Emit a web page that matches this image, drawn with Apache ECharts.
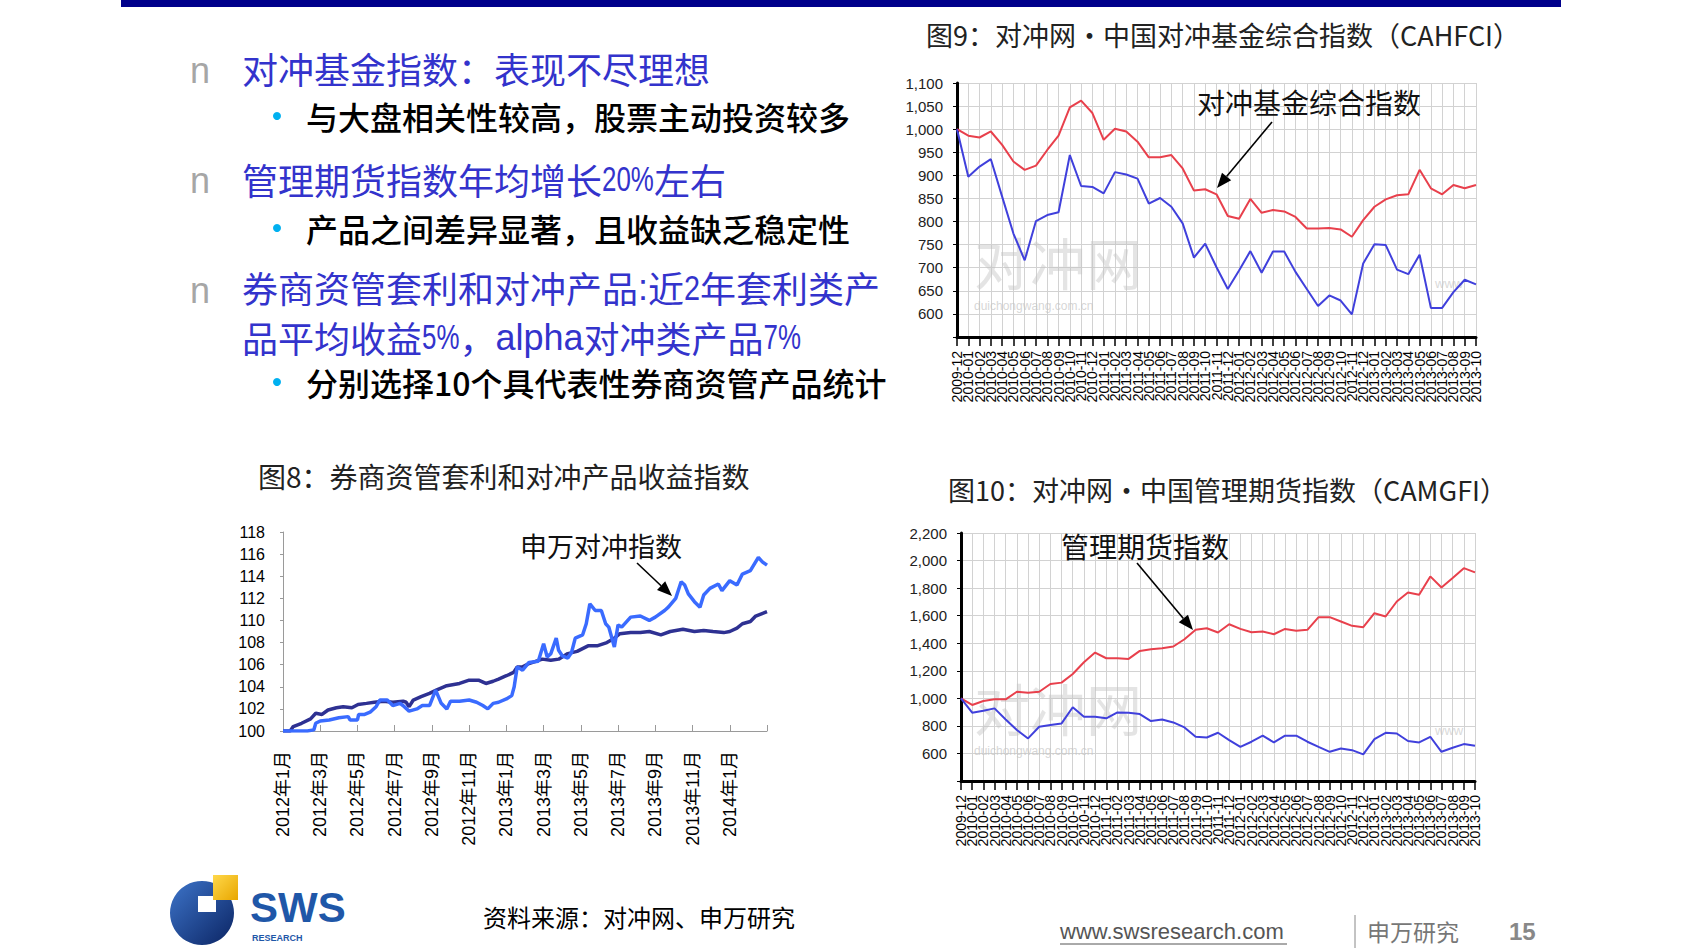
<!DOCTYPE html>
<html><head><meta charset="utf-8">
<script src="https://cdn.jsdelivr.net/npm/echarts@6/dist/echarts.min.js"></script>
<style>html,body{margin:0;padding:0;background:#fff;}#c{width:1684px;height:948px;}</style>
</head><body><div id="c"></div>
<script>
// ---------- DATA ----------
const months = ['2009-12','2010-01','2010-02','2010-03','2010-04','2010-05','2010-06','2010-07','2010-08','2010-09','2010-10','2010-11','2010-12',
'2011-01','2011-02','2011-03','2011-04','2011-05','2011-06','2011-07','2011-08','2011-09','2011-10','2011-11','2011-12',
'2012-01','2012-02','2012-03','2012-04','2012-05','2012-06','2012-07','2012-08','2012-09','2012-10','2012-11','2012-12',
'2013-01','2013-02','2013-03','2013-04','2013-05','2013-06','2013-07','2013-08','2013-09','2013-10'];

// 图9 对冲基金综合指数 (red) and comparison (blue)
const cahfci = [1000,986,982,995,966,930,912,921,955,986,1047,1062,1035,977,1001,995,973,939,939,944,915,867,870,859,812,806,849,819,825,822,810,785,785,786,783,767,803,832,848,857,859,912,872,859,879,872,879];
const cahfciBench = [1000,897,919,935,854,774,716,801,814,820,944,877,875,861,907,902,893,839,851,832,796,722,752,701,654,694,736,689,735,735,691,654,617,640,629,599,709,751,749,696,686,728,613,613,647,674,664];

// 图10 管理期货指数 (red) and comparison (blue)
const camgfi = [1000,952,981,993,993,1048,1041,1048,1104,1114,1177,1262,1332,1291,1291,1286,1344,1356,1364,1376,1429,1497,1509,1478,1538,1504,1480,1485,1465,1504,1490,1497,1589,1589,1558,1526,1516,1618,1594,1703,1768,1752,1885,1805,1873,1945,1914];
const camgfiBench = [1000,896,910,927,847,770,709,794,806,818,935,867,867,855,898,896,886,835,847,825,789,721,716,750,697,648,685,729,680,729,729,685,648,612,636,624,593,704,750,745,690,680,721,612,641,668,656];

// 图8 券商资管 indices
const fig8Labels = ['2012年1月','2012年3月','2012年5月','2012年7月','2012年9月','2012年11月','2013年1月','2013年3月','2013年5月','2013年7月','2013年9月','2013年11月','2014年1月'];
const arbIndex = [['2012-01-01',100.0],['2012-01-13',100.0],['2012-01-18',100.4],['2012-02-01',100.7],['2012-02-15',101.1],['2012-02-23',101.6],['2012-03-04',101.5],['2012-03-14',101.9],['2012-03-28',102.1],['2012-04-08',102.2],['2012-04-22',102.1],['2012-05-02',102.4],['2012-05-16',102.5],['2012-05-29',102.6],['2012-06-13',102.7],['2012-06-28',102.6],['2012-07-15',102.7],['2012-07-20',102.6],['2012-07-25',102.2],['2012-08-01',102.8],['2012-08-14',103.1],['2012-08-28',103.4],['2012-09-08',103.7],['2012-09-25',104.1],['2012-10-16',104.3],['2012-11-01',104.6],['2012-11-16',104.6],['2012-11-28',104.3],['2012-12-10',104.5],['2012-12-19',104.7],['2013-01-01',105.0],['2013-01-13',105.3],['2013-01-19',105.8],['2013-01-28',105.8],['2013-02-07',106.1],['2013-02-27',106.5],['2013-03-13',106.4],['2013-03-26',106.5],['2013-04-10',107.0],['2013-04-25',107.2],['2013-05-13',107.7],['2013-05-28',107.7],['2013-06-13',108.0],['2013-06-25',108.4],['2013-07-04',108.8],['2013-07-22',108.9],['2013-08-07',108.9],['2013-08-22',109.0],['2013-09-10',108.7],['2013-09-25',109.0],['2013-10-16',109.2],['2013-11-04',109.0],['2013-11-19',109.1],['2013-12-04',109.0],['2013-12-22',108.9],['2014-01-01',109.0],['2014-01-13',109.3],['2014-01-22',109.7],['2014-02-04',109.9],['2014-02-12',110.4],['2014-03-01',110.8]];
const swsHedge = [['2012-01-01',100.0],['2012-02-10',100.0],['2012-02-20',100.1],['2012-02-23',100.7],['2012-03-01',100.9],['2012-03-16',101.0],['2012-04-01',101.2],['2012-04-16',101.3],['2012-04-19',101.0],['2012-05-01',101.0],['2012-05-03',101.5],['2012-05-13',101.5],['2012-05-22',101.7],['2012-06-01',102.2],['2012-06-07',102.8],['2012-06-19',102.8],['2012-06-28',102.3],['2012-07-10',102.5],['2012-07-17',102.2],['2012-07-25',101.8],['2012-08-07',102.0],['2012-08-16',102.3],['2012-08-28',102.3],['2012-09-07',103.7],['2012-09-16',102.5],['2012-09-25',102.0],['2012-10-01',102.7],['2012-10-16',102.7],['2012-11-01',102.8],['2012-11-13',102.6],['2012-11-23',102.3],['2012-12-01',102.0],['2012-12-10',102.5],['2012-12-19',102.6],['2013-01-01',102.9],['2013-01-10',103.2],['2013-01-14',104.0],['2013-01-19',105.8],['2013-01-28',105.5],['2013-02-07',106.2],['2013-02-21',106.3],['2013-03-01',107.9],['2013-03-07',106.7],['2013-03-13',107.0],['2013-03-22',108.4],['2013-03-26',107.3],['2013-04-01',106.8],['2013-04-10',106.6],['2013-04-16',107.1],['2013-04-22',108.4],['2013-05-04',108.7],['2013-05-10',109.7],['2013-05-16',111.5],['2013-05-25',110.9],['2013-06-04',110.9],['2013-06-11',109.7],['2013-06-16',109.4],['2013-06-25',107.6],['2013-07-01',109.6],['2013-07-07',109.4],['2013-07-22',110.3],['2013-08-07',110.4],['2013-08-22',110.0],['2013-09-01',110.3],['2013-09-16',110.9],['2013-09-22',111.2],['2013-10-04',112.0],['2013-10-13',113.5],['2013-10-19',113.2],['2013-10-25',112.4],['2013-11-04',111.7],['2013-11-13',111.2],['2013-11-19',112.3],['2013-11-29',112.9],['2013-12-13',113.3],['2013-12-19',112.7],['2014-01-01',113.6],['2014-01-13',113.2],['2014-01-22',114.2],['2014-02-04',114.5],['2014-02-16',115.7],['2014-02-22',115.3],['2014-03-01',115.0]];

// ---------- helpers ----------
function monthIdx(s){const p=s.split('-').map(Number);const dim=new Date(p[0],p[1],0).getDate();return (p[0]-2012)*12+(p[1]-1)+(p[2]-1)/dim;}
const toXY = arr => arr.map(d=>[monthIdx(d[0]), d[1]]);
const CJK = "'Noto Sans CJK SC','Noto Sans',sans-serif";
const LAT = "'Liberation Sans','Noto Sans CJK SC',sans-serif";
const mctx = document.createElement('canvas').getContext('2d');
function measure(t,font){mctx.font=font;return mctx.measureText(t).width;}
function txt(x,y,text,size,fill,opts){opts=opts||{};return {type:'text',x:x,y:y,z:opts.z||5,style:{text:text,font:(opts.weight||'normal')+' '+size+'px '+(opts.family||CJK),fill:fill,textAlign:opts.align||'left',textVerticalAlign:'middle',opacity:opts.opacity==null?1:opts.opacity}};}
// parts: [text, latinScale] ; latinScale 0 => CJK font, otherwise Liberation Sans squeezed by that factor
function runText(x,y,parts,size,fill,weight){let cx=x;const out=[];parts.forEach(p=>{const lat=p[1]>0;const font=(weight||'normal')+' '+size+'px '+(lat?"'Liberation Sans',sans-serif":CJK);const s=lat?p[1]:1;
  out.push({type:'text',x:cx,y:y,scaleX:s,z:5,style:{text:p[0],font:font,fill:fill,textAlign:'left',textVerticalAlign:'middle'}});cx+=measure(p[0],font)*s;});return out;}
function arrow(x1,y1,x2,y2){const a=Math.atan2(y2-y1,x2-x1),L=15,W=6;const bx=x2-L*Math.cos(a),by=y2-L*Math.sin(a);const px=-Math.sin(a)*W,py=Math.cos(a)*W;
 return [{type:'line',z:6,shape:{x1:x1,y1:y1,x2:bx,y2:by},style:{stroke:'#000',lineWidth:1.6}},{type:'polygon',z:6,shape:{points:[[x2,y2],[bx+px,by+py],[bx-px,by-py]]},style:{fill:'#000'}}];}

const thousand = v => v.toLocaleString('en-US');
function monthAxis(grid){return {type:'category',gridIndex:grid,data:months,boundaryGap:false,
  axisLine:{lineStyle:{color:'#000',width:3}},
  axisTick:{show:true,interval:0,length:9,lineStyle:{color:'#000',width:1.5}},
  axisLabel:{interval:0,rotate:90,fontSize:14,color:'#000',fontFamily:'Liberation Sans',margin:14},
  splitLine:{show:true,interval:0,lineStyle:{color:'#d2d2d2',width:1}}};}
function valAxis(grid,min,max,step){return {type:'value',gridIndex:grid,min:min,max:max,interval:step,
  axisLine:{show:true,lineStyle:{color:'#000',width:3}},
  axisTick:{show:true,length:4,lineStyle:{color:'#000'}},
  axisLabel:{fontSize:15,color:'#222',fontFamily:'Liberation Sans',margin:14,formatter:v=>v===min?'':thousand(v)},
  splitLine:{show:true,lineStyle:{color:'#d2d2d2',width:1}}};}

const RED='#e8404c', BLUE='#4040dc';
const graphics = [];
// top bar
graphics.push({type:'rect',shape:{x:121,y:0,width:1440,height:7},style:{fill:'#00008b'}});
// bullet text block
const TB='#3333cc';
[70,180,290].forEach(yy=>graphics.push(txt(200,yy,'n',36,'#a6a6a6',{family:'Liberation Sans',align:'center'})));
graphics.push(...runText(242,68,[['对冲基金指数：表现不尽理想',0]],36,TB));
graphics.push(...runText(242,179,[['管理期货指数年均增长',0],['20%',0.72],['左右',0]],36,TB));
graphics.push(...runText(242,287,[['券商资管套利和对冲产品',0],[':',1],['近',0],['2',0.8],['年套利类产',0]],36,TB));
graphics.push(...runText(242,337,[['品平均收益',0],['5%',0.72],['，',0],['alpha',1],['对冲类产品',0],['7%',0.72]],36,TB));
[[116,'与大盘相关性较高，股票主动投资较多'],[228,'产品之间差异显著，且收益缺乏稳定性'],[382,'分别选择10个具代表性券商资管产品统计']].forEach(r=>{
  graphics.push({type:'circle',shape:{cx:277,cy:r[0],r:4},style:{fill:'#00b0f0'}});
  graphics.push(txt(306,r[0],r[1],32,'#000',{weight:500}));
});
// captions
graphics.push(txt(926,34,'图9：对冲网·中国对冲基金综合指数（CAHFCI）',27,'#222'));
graphics.push(txt(258,476,'图8：券商资管套利和对冲产品收益指数',28,'#222'));
graphics.push(txt(948,489,'图10：对冲网·中国管理期货指数（CAMGFI）',27,'#222'));
// watermarks
[[260,306,283],[706,751,730]].forEach(w=>{
  graphics.push(txt(974,w[0],'对冲网',56,'#c4c4c4',{opacity:0.45,z:1}));
  graphics.push(txt(974,w[1],'duichongwang.com.cn',12,'#c4c4c4',{family:'Liberation Sans',opacity:0.7,z:1}));
  graphics.push(txt(1435,w[2],'www',13,'#c8c8c8',{family:'Liberation Sans',opacity:0.7,z:1}));
});
// annotations
graphics.push(txt(1197,102,'对冲基金综合指数',28,'#111'));
graphics.push(...arrow(1272,122,1217,188));
graphics.push(txt(520,545,'申万对冲指数',27,'#111'));
graphics.push(...arrow(637,563,672,596));
graphics.push(txt(1061,546,'管理期货指数',28,'#111'));
graphics.push(...arrow(1137,563,1193,630));
// footer
graphics.push({type:'circle',shape:{cx:202,cy:913,r:32},style:{fill:new echarts.graphic.LinearGradient(0,0,1,1,[{offset:0,color:'#3d74c9'},{offset:1,color:'#0b2463'}])}});
graphics.push({type:'rect',shape:{x:198,y:896,width:18,height:16},style:{fill:'#fff'}});
graphics.push({type:'rect',shape:{x:213,y:875,width:25,height:25},style:{fill:new echarts.graphic.LinearGradient(0,0,1,1,[{offset:0,color:'#ffd84a'},{offset:1,color:'#e8a600'}])}});
graphics.push(txt(250,907,'SWS',42,'#1f57a8',{family:'Liberation Sans',weight:'bold'}));
graphics.push(txt(252,938,'RESEARCH',9,'#1f57a8',{family:'Liberation Sans',weight:'bold'}));
graphics.push(txt(483,916,'资料来源：对冲网、申万研究',24,'#000'));
graphics.push(txt(1060,931,'www.swsresearch.com',22,'#555',{family:'Liberation Sans'}));
graphics.push({type:'line',shape:{x1:1060,y1:944,x2:1287,y2:944},style:{stroke:'#555',lineWidth:1}});
graphics.push({type:'line',shape:{x1:1355,y1:915,x2:1355,y2:948},style:{stroke:'#888',lineWidth:1}});
graphics.push(txt(1367,931,'申万研究',23,'#777'));
graphics.push(txt(1509,931,'15',24,'#888',{family:'Liberation Sans',weight:'bold'}));

const chart = echarts.init(document.getElementById('c'), null, {renderer:'svg'});
chart.setOption({
  animation:false,
  backgroundColor:'#fff',
  grid:[
    {left:957,top:83,width:519,height:254,outerBoundsMode:'none'},
    {left:961,top:533,width:514,height:248,outerBoundsMode:'none'},
    {left:283,top:532,width:484,height:199,outerBoundsMode:'none'}
  ],
  xAxis:[
    monthAxis(0), monthAxis(1),
    {type:'value',gridIndex:2,min:0,max:26,interval:2,
     axisLine:{lineStyle:{color:'#9a9a9a',width:1}},
     axisTick:{show:true,inside:true,length:6,lineStyle:{color:'#9a9a9a'}},
     axisLabel:{rotate:90,fontSize:18,color:'#000',fontFamily:LAT,margin:20,formatter:v=>fig8Labels[v/2]||''},
     splitLine:{show:false}}
  ],
  yAxis:[
    valAxis(0,550,1100,50), valAxis(1,400,2200,200),
    {type:'value',gridIndex:2,min:100,max:118,interval:2,
     axisLine:{show:true,lineStyle:{color:'#9a9a9a',width:1}},
     axisTick:{show:true,length:3,lineStyle:{color:'#9a9a9a'}},
     axisLabel:{fontSize:16,color:'#000',fontFamily:LAT,margin:18},
     splitLine:{show:false}}
  ],
  series:[
    {type:'line',xAxisIndex:0,yAxisIndex:0,data:cahfci,symbol:'none',lineStyle:{color:RED,width:2}},
    {type:'line',xAxisIndex:0,yAxisIndex:0,data:cahfciBench,symbol:'none',lineStyle:{color:BLUE,width:2}},
    {type:'line',xAxisIndex:1,yAxisIndex:1,data:camgfi,symbol:'none',lineStyle:{color:RED,width:2}},
    {type:'line',xAxisIndex:1,yAxisIndex:1,data:camgfiBench,symbol:'none',lineStyle:{color:BLUE,width:2}},
    {type:'line',xAxisIndex:2,yAxisIndex:2,data:toXY(arbIndex),symbol:'none',lineStyle:{color:'#2e3192',width:3.5}},
    {type:'line',xAxisIndex:2,yAxisIndex:2,data:toXY(swsHedge),symbol:'none',lineStyle:{color:'#3a6bff',width:3.5}}
  ],
  graphic:graphics
});
</script></body></html>
